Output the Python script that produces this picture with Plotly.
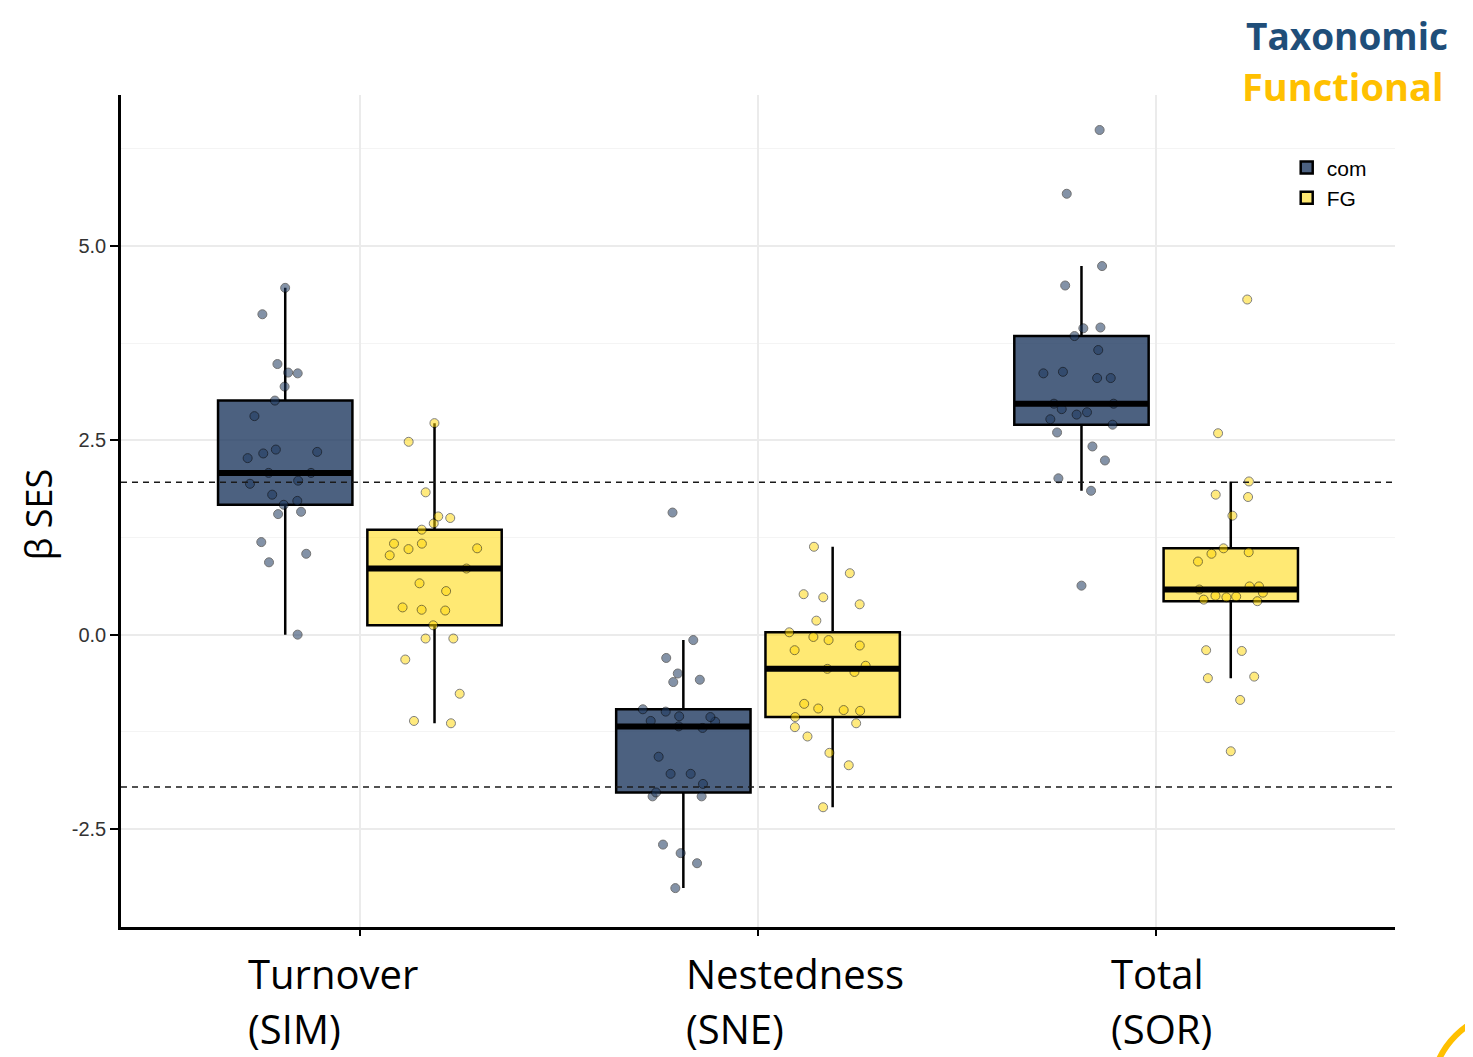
import numpy as np
import plotly.graph_objects as go

# ---------------- data ----------------
categories = ["Turnover", "Nestedness", "Total"]
subtitles = ["(SIM)", "(SNE)", "(SOR)"]
groups = ["com", "FG"]
y_ticks = [-2.5, 0.0, 2.5, 5.0]
y_tick_labels = ["-2.5", "0.0", "2.5", "5.0"]

com_turnover = [4.46, 4.12, 3.37, 3.36, 3.48, 3.19, 3.01, 2.81, 2.35, 2.38, 2.27, 2.33, 2.08,
                2.08, 1.94, 1.98, 1.72, 1.80, 1.67, 1.58, 1.55, 1.19, 1.04, 0.93, 0.00]
fg_turnover = [2.72, 2.48, 1.83, 1.52, 1.50, 1.43, 1.35, 1.11, 1.17, 1.17, 1.02, 1.10, 0.85,
               0.66, 0.56, 0.31, 0.35, 0.32, 0.12, -0.05, -0.05, -0.32, -0.76, -1.11, -1.14]
com_nested = [1.57, -0.07, -0.30, -0.50, -0.61, -0.58, -1.06, -0.99, -1.05, -0.96, -1.12, -1.11,
              -1.20, -1.18, -1.57, -1.79, -1.79, -1.92, -2.08, -2.08, -2.03, -2.70, -2.81, -2.94, -3.26]
fg_nested = [1.13, 0.79, 0.48, 0.52, 0.39, 0.18, -0.03, -0.07, -0.14, 0.03, -0.20, -0.40, -0.44,
             -0.48, -0.98, -0.95, -0.97, -0.89, -1.06, -1.14, -1.19, -1.31, -1.52, -1.68, -2.22]
com_total = [6.49, 5.67, 4.74, 4.49, 3.94, 3.95, 3.84, 3.66, 3.36, 3.38, 3.30, 3.30, 2.97,
             2.97, 2.86, 2.83, 2.90, 2.77, 2.70, 2.60, 2.42, 2.24, 2.01, 1.85, 0.63]
fg_total = [4.31, 2.59, 1.97, 1.80, 1.77, 1.53, 1.11, 1.06, 1.04, 0.94, 0.62, 0.62, 0.58,
            0.54, 0.50, 0.48, 0.49, 0.45, 0.43, -0.20, -0.21, -0.54, -0.56, -0.84, -1.50]

series = {
    "com": [com_turnover, com_nested, com_total],
    "FG": [fg_turnover, fg_nested, fg_total],
}
threshold = 1.96

# ---------------- styling ----------------
dodge = {"com": -0.1875, "FG": 0.1875}
box_w = 0.3375
fills = {"com": "rgba(31,58,96,0.80)", "FG": "rgba(255,215,0,0.55)"}
pt_colors = {"com": "#1f3a60", "FG": "#ffd700"}
pt_opac = {"com": 0.55, "FG": 0.5}
label_dx = [-0.286, -0.185, -0.118]

fig = go.Figure()

for g in groups:
    xs, ys = [], []
    for i, vals in enumerate(series[g]):
        xs += [i + dodge[g]] * len(vals)
        ys += vals
    fig.add_trace(go.Box(
        x=xs, y=ys, name=g, width=box_w,
        boxpoints="all", jitter=0.75, pointpos=0,
        quartilemethod="inclusive",
        fillcolor=fills[g],
        line=dict(color="black", width=2.5),
        whiskerwidth=0,
        marker=dict(color=pt_colors[g], size=9, opacity=pt_opac[g],
                    line=dict(color="black", width=1)),
    ))

# thicker median bars (ggplot style)
for g in groups:
    mx, my = [], []
    for i, vals in enumerate(series[g]):
        m = float(np.median(vals))
        c = i + dodge[g]
        mx += [c - box_w / 2, c + box_w / 2, None]
        my += [m, m, None]
    fig.add_trace(go.Scatter(x=mx, y=my, mode="lines", showlegend=False,
                             hoverinfo="skip", line=dict(color="black", width=6)))

# dashed significance thresholds
for t in (threshold, -threshold):
    fig.add_shape(type="line", xref="paper", x0=0, x1=1, yref="y", y0=t, y1=t,
                  line=dict(color="#1a1a1a", width=1.6, dash="6px,5px"), layer="above")

# category labels (two lines, left aligned)
for i, (c, s) in enumerate(zip(categories, subtitles)):
    for txt, yp in ((c, -0.0553), (s, -0.1220)):
        fig.add_annotation(x=i + label_dx[i], xref="x", y=yp, yref="paper",
                           text=txt, showarrow=False, xanchor="left", yanchor="middle",
                           font=dict(family="Open Sans", size=40, color="black"))

# y title
fig.add_annotation(x=-0.0651, xref="paper", y=0.495, yref="paper", text="β SES",
                   textangle=-90, showarrow=False, xanchor="center", yanchor="middle",
                   font=dict(family="Open Sans", size=36, color="black"))

# header labels
fig.add_annotation(x=1.0432, xref="paper", y=(927 - 35) / 832, yref="paper",
                   text="<b>Taxonomic</b>",
                   showarrow=False, xanchor="right", yanchor="middle",
                   font=dict(family="Open Sans", size=37, color="#1f4e79"))
fig.add_annotation(x=1.040, xref="paper", y=(927 - 86) / 832, yref="paper",
                   text="<b>Functional</b>",
                   showarrow=False, xanchor="right", yanchor="middle",
                   font=dict(family="Open Sans", size=38, color="#ffc000"))

# decorative arc bottom-right
fig.add_shape(type="circle", xref="paper", yref="paper",
              x0=(1431 - 121) / 1274, x1=(1599 - 121) / 1274,
              y0=(927 - 1179) / 832, y1=(927 - 1011) / 832,
              line=dict(color="#ffc000", width=6), layer="above")

# page body has an 8px default margin: the figure is sized/offset to compensate
fig.update_layout(
    width=1465, height=1049,
    margin=dict(l=113, r=78, t=87, b=130),
    paper_bgcolor="white", plot_bgcolor="white",
    boxmode="overlay",
    font=dict(family="Liberation Sans", size=19, color="#333333"),
    legend=dict(x=0.915, y=0.937, xanchor="left", yanchor="top",
                font=dict(family="Liberation Sans", size=21, color="black"),
                bgcolor="rgba(0,0,0,0)", tracegroupgap=0),
    xaxis=dict(range=[-0.6, 2.6], tickvals=[0, 1, 2], showticklabels=False,
               ticks="outside", ticklen=6, tickwidth=2, tickcolor="black",
               showgrid=True, gridcolor="#ebebeb", gridwidth=1.5, zeroline=False,
               showline=True, linecolor="black", linewidth=2.5),
    yaxis=dict(range=[-3.76, 6.94], tickvals=y_ticks, ticktext=y_tick_labels,
               ticks="outside", ticklen=8, tickwidth=2, tickcolor="black",
               tickfont=dict(family="Liberation Sans", size=20, color="#333333"),
               showgrid=True, gridcolor="#ebebeb", gridwidth=1.5, zeroline=False,
               showline=True, linecolor="black", linewidth=2.5,
               minor=dict(tickvals=[-1.25, 1.25, 3.75, 6.25], showgrid=True,
                          gridcolor="#f4f4f4", gridwidth=1, ticks="")),
)

fig.write_html("out.html")
